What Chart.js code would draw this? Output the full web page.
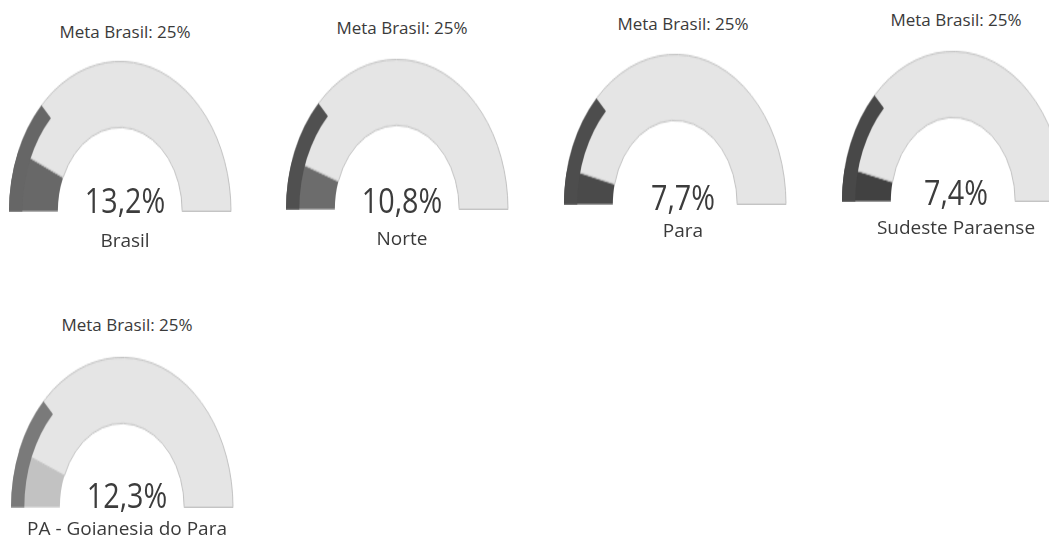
<!DOCTYPE html>
<html>
<head>
<meta charset="utf-8">
<script src="https://cdn.jsdelivr.net/npm/chart.js@4.4.0/dist/chart.umd.min.js"></script>
<style>
  body { margin: 0; background: #fff; width: 1049px; height: 547px; overflow: hidden; position: relative; font-family: "Open Sans", sans-serif; color: #333; }
  .gauge { position: absolute; transform: scaleY(1.35); transform-origin: 50% 100%; }
  .gauge canvas { position: absolute; left: 0; top: 0; }
  .txt { position: absolute; width: 260px; text-align: center; white-space: nowrap; }
  .title { font-size: 17px; line-height: 20px; color: #3a3a3a; }
  .value { font-size: 35px; line-height: 40px; color: #3c3c3c; transform: scaleX(0.82); }
  .label { font-size: 19px; line-height: 22px; color: #3a3a3a; }
</style>
</head>
<body>
<script>
// Gauge data
const regions = ['Brasil', 'Norte', 'Para', 'Sudeste Paraense', 'PA - Goianesia do Para'];
const values = [13.2, 10.8, 7.7, 7.4, 12.3];
const meta = 25;
const scaleMax = 100;

// per-gauge shades (scan is grayscale)
const fillColors = ['#686868', '#6c6c6c', '#4a4a4a', '#414141', '#c2c2c2'];
const bandColors = ['#666666', '#505050', '#4d4d4d', '#484848', '#7a7a7a'];
const restColor = '#e5e5e5';
const edgeColor = '#c2c2c2';

// layout: gauge center x, base y, and text centers
const layout = [
  { cx: 120, base: 212, tx: 125, ty: 32, vy: 200, ly: 240 },
  { cx: 397, base: 210, tx: 402, ty: 28, vy: 200, ly: 238 },
  { cx: 675, base: 205, tx: 683, ty: 24, vy: 197, ly: 230 },
  { cx: 953, base: 202, tx: 956, ty: 20, vy: 192, ly: 227 },
  { cx: 122, base: 508, tx: 127, ty: 325, vy: 495, ly: 528 }
];
const R = 111;

function addText(cls, text, x, y, h) {
  const d = document.createElement('div');
  d.className = 'txt ' + cls;
  d.textContent = text;
  d.style.left = (x - 130) + 'px';
  d.style.top = (y - h / 2) + 'px';
  document.body.appendChild(d);
}

function makeCanvas(wrap) {
  const cv = document.createElement('canvas');
  cv.width = 2 * R + 2;
  cv.height = R + 1;
  wrap.appendChild(cv);
  return cv;
}

const baseOpts = {
  responsive: false,
  animation: false,
  rotation: -90,
  circumference: 180,
  layout: { padding: 0 },
  plugins: { legend: { display: false }, tooltip: { enabled: false } }
};

regions.forEach((name, i) => {
  const L = layout[i];
  const wrap = document.createElement('div');
  wrap.className = 'gauge';
  wrap.style.left = (L.cx - R - 1) + 'px';
  wrap.style.top = (L.base - R - 1) + 'px';
  wrap.style.width = (2 * R + 2) + 'px';
  wrap.style.height = (R + 1) + 'px';
  document.body.appendChild(wrap);

  // main ring: value + rest
  new Chart(makeCanvas(wrap), {
    type: 'doughnut',
    data: {
      datasets: [{
        data: [values[i], scaleMax - values[i]],
        backgroundColor: [fillColors[i], restColor],
        borderColor: [fillColors[i], edgeColor],
        borderWidth: [0, 1]
      }]
    },
    options: Object.assign({}, baseOpts, { cutout: '56%' })
  });

  // thin outer band: meta target
  new Chart(makeCanvas(wrap), {
    type: 'doughnut',
    data: {
      datasets: [{
        data: [meta, scaleMax - meta],
        backgroundColor: [bandColors[i], 'rgba(0,0,0,0)'],
        borderColor: [bandColors[i], 'rgba(0,0,0,0)'],
        borderWidth: [0, 1]
      }]
    },
    options: Object.assign({}, baseOpts, { cutout: '88%' })
  });

  addText('title', 'Meta Brasil: ' + meta + '%', L.tx, L.ty, 20);
  addText('value', values[i].toFixed(1).replace('.', ',') + '%', L.tx, L.vy, 40);
  addText('label', name, L.tx, L.ly, 22);
});
</script>
</body>
</html>
